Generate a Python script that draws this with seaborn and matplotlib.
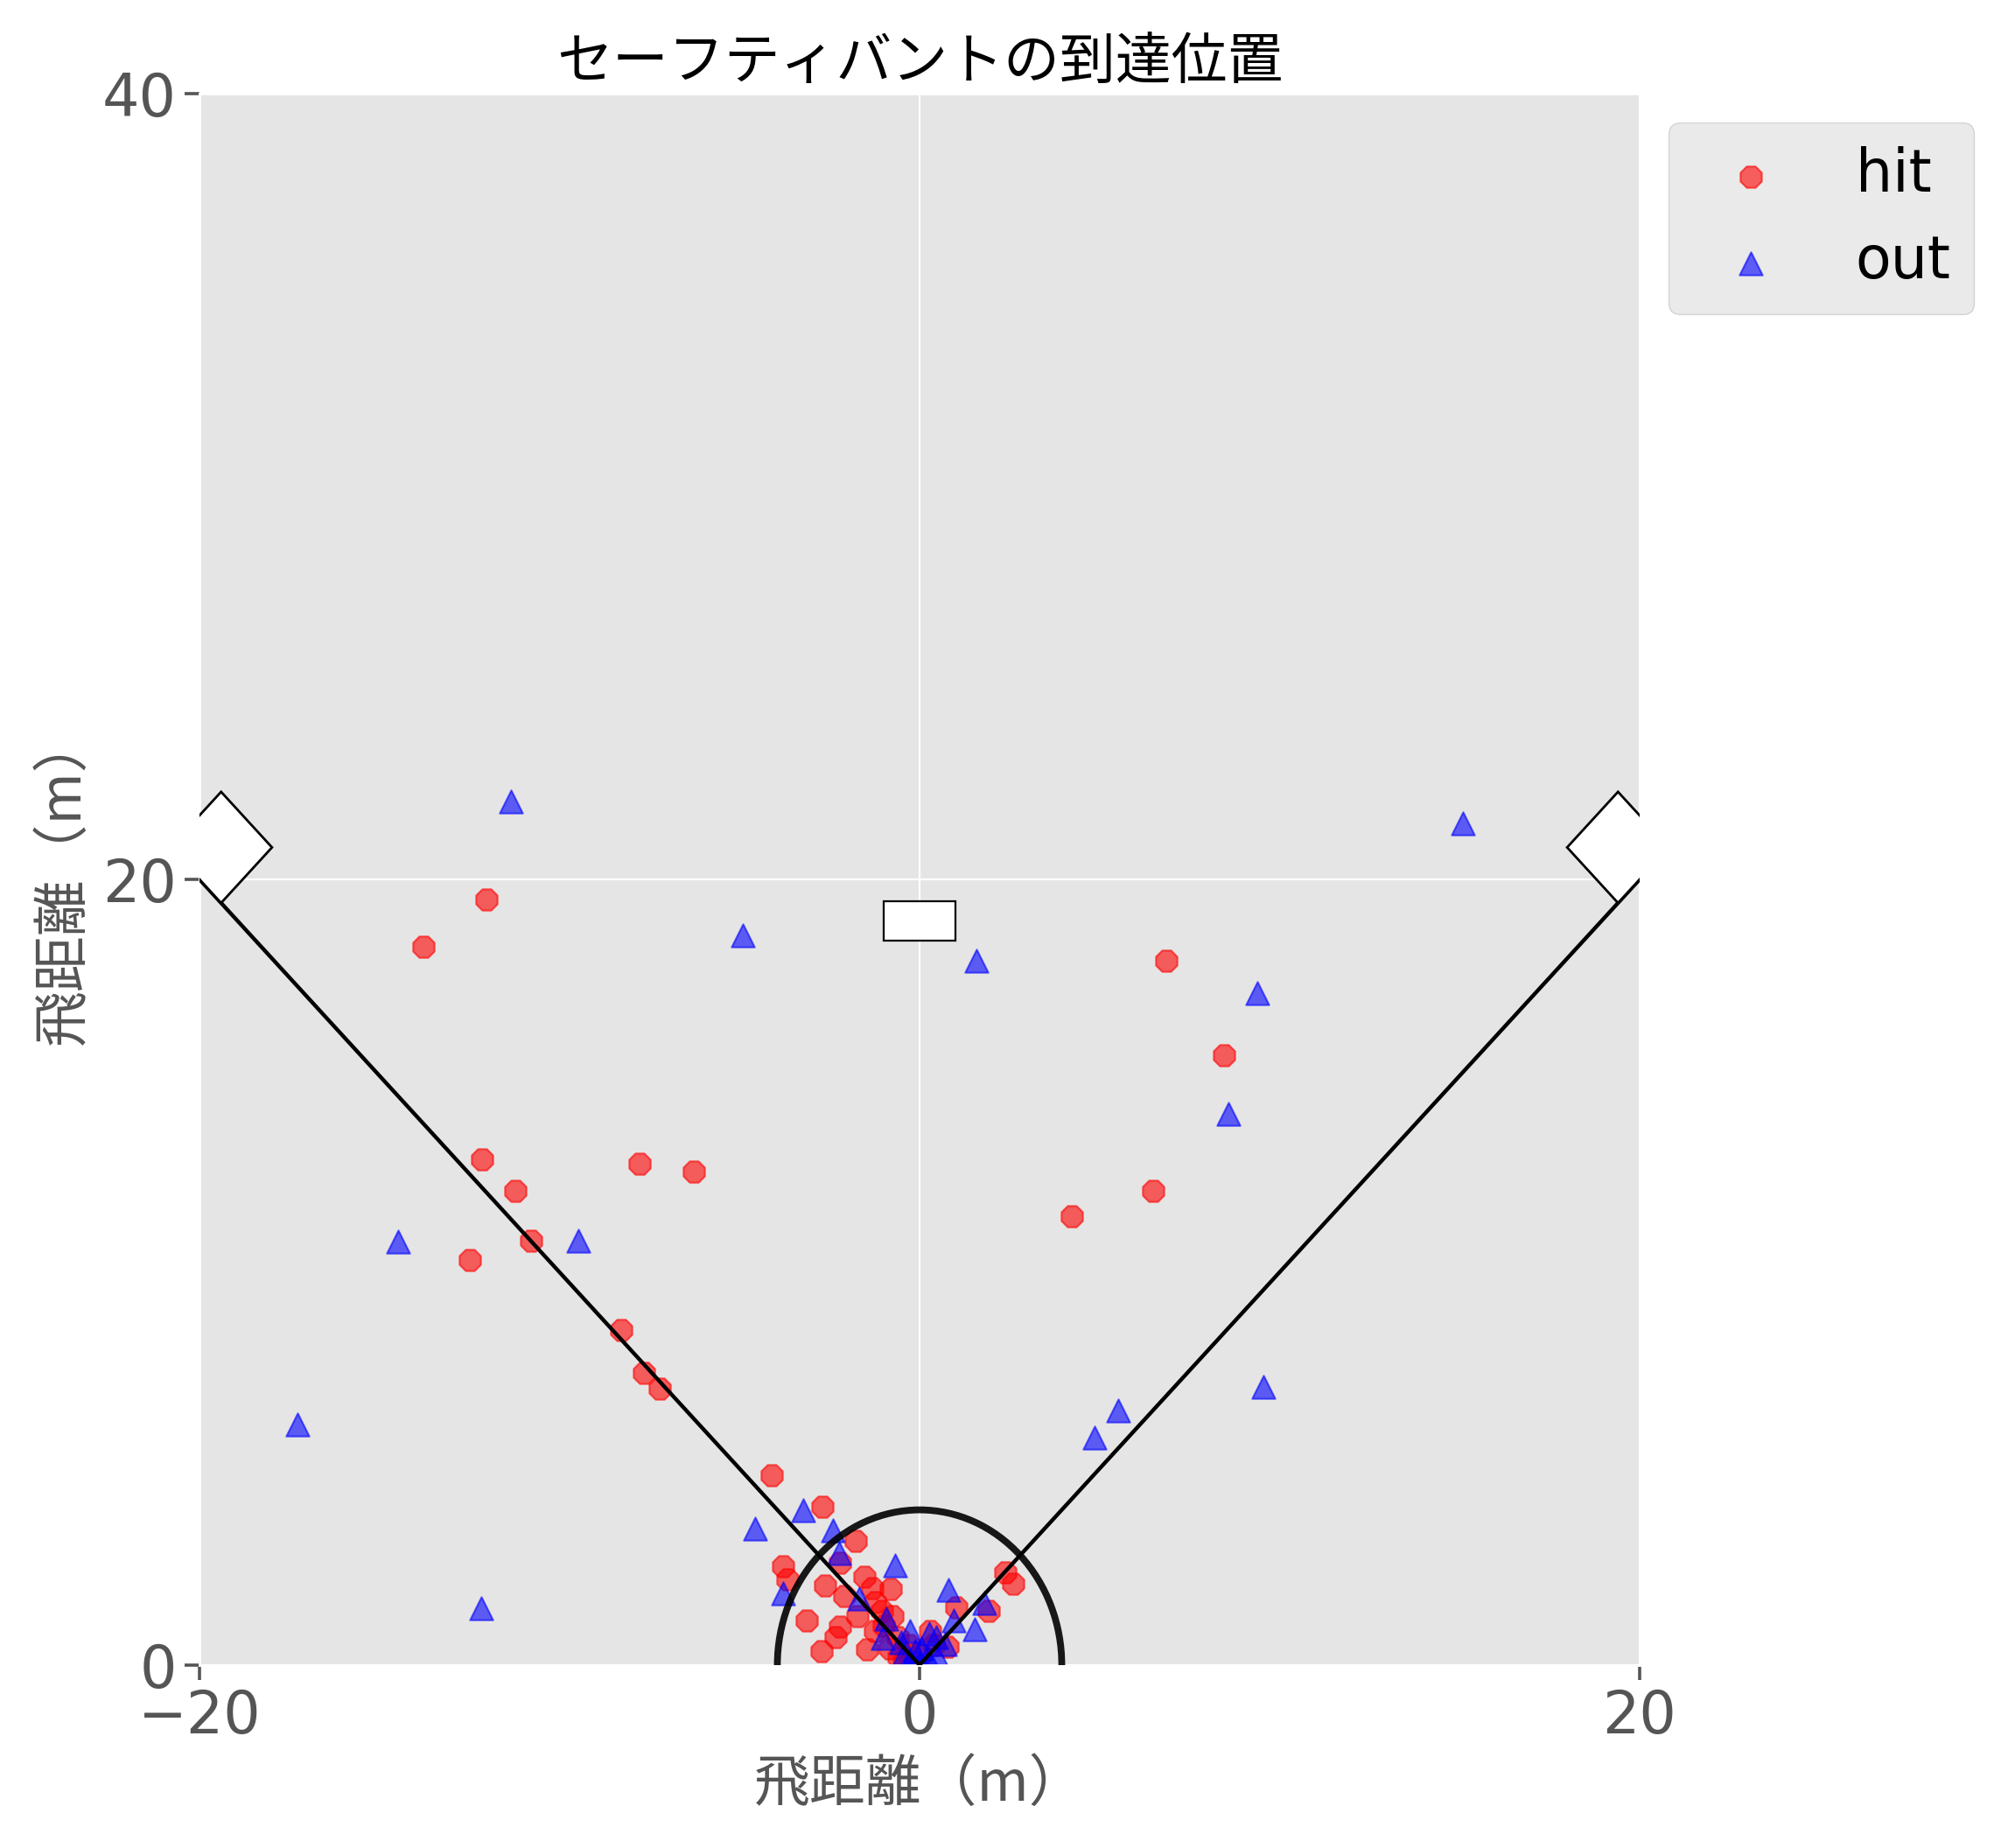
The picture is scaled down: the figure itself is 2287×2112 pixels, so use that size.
import numpy as np
import pandas as pd
import matplotlib
matplotlib.use('Agg')
import matplotlib.pyplot as plt
import matplotlib.patches as patches
import seaborn as sns

# bunt landing positions (m)
hit_x = [-13.78, -12.04, -12.15, -11.22, -10.80, -12.50, -7.78, -6.26, -8.28, -7.65,
         -7.22, -4.11, -2.70, 4.23, 6.50, 6.85, 8.45, 2.37, 2.61, 1.92,
         -1.77, -2.21, -3.79, -3.67, -2.63, -1.52, -0.81, -2.09, -1.32, -1.24,
         -1.73, -1.04, -0.75, -3.13, -2.21, -2.33, -2.71, -1.47, -1.24, -0.83,
         -0.59, -0.43, 0.30, 0.38, 0.79, 1.03, 0.06, -0.27, -0.60, -0.30, -1.00]
hit_y = [18.28, 19.48, 12.88, 12.07, 10.80, 10.32, 12.75, 12.56, 8.53, 7.43,
         7.04, 4.84, 4.02, 11.42, 12.07, 17.92, 15.52, 2.35, 2.06, 1.39,
         3.15, 2.61, 2.52, 2.19, 2.02, 2.24, 1.93, 1.76, 1.95, 1.61,
         1.24, 1.39, 1.24, 1.14, 0.98, 0.72, 0.36, 0.39, 0.87, 0.42,
         0.20, 0.09, 0.87, 0.50, 0.46, 1.46, 0.27, 0.27, 0.70, 0.50, 1.00]

out_x = [-11.36, -4.91, 1.57, 9.37, 8.59, 15.08, -14.48, -9.48, -17.28, -12.18,
         9.56, 5.51, 4.87, -3.22, -4.56, -2.40, -2.23, -1.68, -0.67, -3.79,
         0.80, 1.80, 0.96, 1.54, -0.92, -1.01, -0.27, -0.51, 0.26, 0.46,
         0.70, -0.11, 0.06, -0.27, 0.22, 0.46, 0.00, -0.43]
out_y = [21.98, 18.57, 17.92, 17.11, 14.02, 21.43, 10.77, 10.80, 6.12, 1.45,
         7.07, 6.49, 5.80, 3.95, 3.48, 3.43, 2.84, 1.69, 2.54, 1.83,
         1.91, 1.57, 1.13, 0.91, 1.17, 0.68, 0.87, 0.57, 0.79, 0.72,
         0.53, 0.35, 0.42, 0.13, 0.20, 0.27, 0.05, 0.27]

hit = pd.DataFrame({'x': hit_x, 'y': hit_y})
out = pd.DataFrame({'x': out_x, 'y': out_y})

plt.style.use('ggplot')
plt.rcParams['font.family'] = ['DejaVu Sans', 'Noto Sans CJK JP']
jp = ['Noto Sans CJK JP', 'DejaVu Sans']

fig = plt.figure(figsize=(11.435, 10.56), dpi=200)
ax = fig.add_axes([0.0997, 0.099, 0.7197, 0.8503])

sns.scatterplot(data=hit, x='x', y='y', color='red', marker='8', s=90,
                alpha=0.6, edgecolor='face', label='hit', ax=ax)
sns.scatterplot(data=out, x='x', y='y', color='blue', marker='^', s=90,
                alpha=0.6, edgecolor='face', label='out', ax=ax)

# field: foul lines, circle, rubber, bases
ax.plot([0, -22], [0, 22], color='k', lw=1.6, zorder=4)
ax.plot([0, 22], [0, 22], color='k', lw=1.6, zorder=4)
ax.add_patch(patches.Circle((0, 0), 3.95, fill=False, color='k', alpha=0.9, lw=2.8, zorder=4))
ax.add_patch(patches.Rectangle((-1, 18.44), 2, 1, facecolor='white', edgecolor='k', lw=0.8, zorder=5))
for bx in [-19.4, 19.4]:
    d = 1.414
    ax.add_patch(patches.Polygon([(bx, 19.4), (bx + d, 19.4 + d), (bx, 19.4 + 2 * d), (bx - d, 19.4 + d)],
                                 closed=True, facecolor='white', edgecolor='k', lw=1.0, zorder=5))

ax.set_xlim(-20, 20)
ax.set_ylim(0, 40)
ax.set_xticks([-20, 0, 20])
ax.set_yticks([0, 20, 40])
ax.tick_params(labelsize=24, length=6, width=1.3, colors='#555555')

ax.set_title('セーフティバントの到達位置', fontsize=23, family=jp, color='black')
ax.set_xlabel('飛距離（m）', fontsize=23, family=jp, color='#555555')
ax.set_ylabel('飛距離（m）', fontsize=23, family=jp, color='#555555')

ax.legend(loc='upper left', bbox_to_anchor=(1.0, 1.0), fontsize=24)

fig.savefig('out.png', dpi=200)
